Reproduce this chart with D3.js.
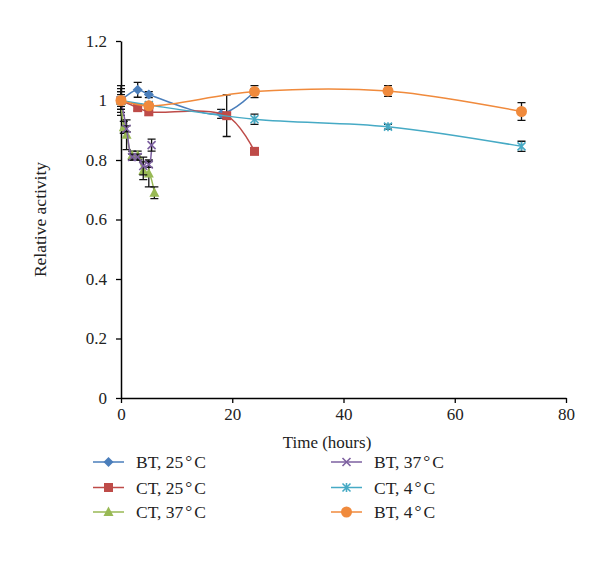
<!DOCTYPE html>
<html><head><meta charset="utf-8">
<script src="https://cdn.jsdelivr.net/npm/d3@7/dist/d3.min.js"></script>
<style>body{margin:0;background:#fff}svg{display:block}text{font-family:"Liberation Serif","DejaVu Serif",serif;fill:#222}</style>
</head><body><svg id="c" width="600" height="575"></svg>
<script>
const xTicks=[0,20,40,60,80];
const yTicks=[0,0.2,0.4,0.6,0.8,1,1.2];
const seriesNames=["BT, 25°C","CT, 25°C","CT, 37°C","BT, 37°C","CT, 4°C","BT, 4°C"];
const bt25T=[0,3,5,18,24], bt25V=[1.0,1.036,1.02,0.955,1.03], bt25E=[0.05,0.025,0.01,0.015,0.01];
const ct25T=[0,3,5,19,24], ct25V=[1.0,0.976,0.962,0.949,0.829], ct25E=[0.04,0.01,0.012,0.07,0.005];
const ct37T=[0,0.5,1,2,3,4,5,6], ct37V=[1.0,0.91,0.885,0.815,0.815,0.764,0.755,0.69], ct37E=[0.03,0.02,0.05,0.015,0.015,0.03,0.045,0.02];
const bt37T=[0,1,2,3,4,5,5.5], bt37V=[1.0,0.905,0.81,0.81,0.78,0.785,0.85], bt37E=[0.02,0.01,0.01,0.01,0.03,0.01,0.02];
const ct4T=[0,5,24,48,72], ct4V=[1.0,0.985,0.937,0.912,0.846], ct4E=[0.01,0.005,0.017,0.008,0.017];
const bt4T=[0,5,24,48,72], bt4V=[1.0,0.982,1.03,1.032,0.963], bt4E=[0.03,0.01,0.02,0.018,0.03];

const colors=["#4a7ebb","#be4b48","#98b954","#7d60a0","#46aac5","#f08a3c"];
const markers=["diamond","square","triangle","x","asterisk","circle"];
const series=[[bt25T,bt25V,bt25E],[ct25T,ct25V,ct25E],[ct37T,ct37V,ct37E],[bt37T,bt37V,bt37E],[ct4T,ct4V,ct4E],[bt4T,bt4V,bt4E]]
 .map((s,i)=>({name:seriesNames[i],color:colors[i],marker:markers[i],pts:s[0].map((t,j)=>({t,v:s[1][j],e:s[2][j]}))}));

const svg=d3.select("#c");
const L=121,R=566,T=41,B=398;
const x=d3.scaleLinear().domain([0,80]).range([L,R]);
const y=d3.scaleLinear().domain([0,1.2]).range([B,T]);

const xa=svg.append("g").attr("transform",`translate(0,${B})`).call(d3.axisBottom(x).tickValues(xTicks).tickSize(5).tickSizeOuter(0).tickPadding(5));
const ya=svg.append("g").attr("transform",`translate(${L},0)`).call(d3.axisLeft(y).tickValues(yTicks).tickFormat(d=>d===1?"1":d3.format("")(d)).tickSize(5).tickSizeOuter(0).tickPadding(9));
[xa,ya].forEach(a=>{a.select(".domain").attr("stroke","#000").attr("stroke-width",1.5);a.selectAll(".tick line").attr("stroke","#000").attr("stroke-width",1.3);a.selectAll("text").style("font-size","17px").attr("fill","#222");});

svg.append("text").attr("x",327).attr("y",442).attr("dy","0.35em").attr("text-anchor","middle").style("font-size","17px").text("Time (hours)");
svg.append("text").attr("transform",`translate(40,${(T+B)/2}) rotate(-90)`).attr("dy","0.35em").attr("text-anchor","middle").style("font-size","17.5px").text("Relative activity");

function drawMarker(g,type,cx,cy,color){
  if(type==="diamond") g.append("path").attr("d",`M${cx},${cy-5}L${cx+5},${cy}L${cx},${cy+5}L${cx-5},${cy}Z`).attr("fill",color);
  else if(type==="square") g.append("rect").attr("x",cx-4.5).attr("y",cy-4.5).attr("width",9).attr("height",9).attr("fill",color);
  else if(type==="triangle") g.append("path").attr("d",`M${cx},${cy-5.5}L${cx+5},${cy+4}L${cx-5},${cy+4}Z`).attr("fill",color);
  else if(type==="x") g.append("path").attr("d",`M${cx-4},${cy-4}L${cx+4},${cy+4}M${cx-4},${cy+4}L${cx+4},${cy-4}`).attr("stroke",color).attr("stroke-width",1.6);
  else if(type==="asterisk") g.append("path").attr("d",`M${cx-4},${cy-4}L${cx+4},${cy+4}M${cx-4},${cy+4}L${cx+4},${cy-4}M${cx},${cy-4.5}L${cx},${cy+4.5}`).attr("stroke",color).attr("stroke-width",1.6);
  else g.append("circle").attr("cx",cx).attr("cy",cy).attr("r",5.5).attr("fill",color);
}

const line=d3.line().x(d=>x(d.t)).y(d=>y(d.v)).curve(d3.curveCatmullRom.alpha(0.5));
series.forEach(s=>{
  const g=svg.append("g");
  g.append("path").attr("d",line(s.pts)).attr("fill","none").attr("stroke",s.color).attr("stroke-width",1.5);
  s.pts.forEach(p=>{
    const x0=x(p.t),y1=y(p.v+p.e),y2=y(p.v-p.e);
    g.append("path").attr("d",`M${x0},${y1}L${x0},${y2}M${x0-4},${y1}L${x0+4},${y1}M${x0-4},${y2}L${x0+4},${y2}`).attr("stroke","#111").attr("stroke-width",1.3).attr("fill","none");
  });
  s.pts.forEach(p=>drawMarker(g,s.marker,x(p.t),y(p.v),s.color));
});

// legend
const legPos=[[93,462],[93,487.5],[93,512],[331,462],[331,487.5],[331,512]];
series.forEach((s,i)=>{
  const [lx,ly]=legPos[i];
  const g=svg.append("g");
  g.append("line").attr("x1",lx).attr("x2",lx+31).attr("y1",ly).attr("y2",ly).attr("stroke",s.color).attr("stroke-width",1.5);
  drawMarker(g,s.marker,lx+15.5,ly,s.color);
  const parts=s.name.split("°");
  const t=g.append("text").attr("x",lx+43).attr("y",ly).attr("dy","0.35em").style("font-size","17.5px");
  t.append("tspan").text(parts[0]);
  t.append("tspan").attr("dx",2).attr("dy","-0.05em").text("°");
  t.append("tspan").attr("dx",2).attr("dy","0.05em").text(parts[1]);
});
</script></body></html>
